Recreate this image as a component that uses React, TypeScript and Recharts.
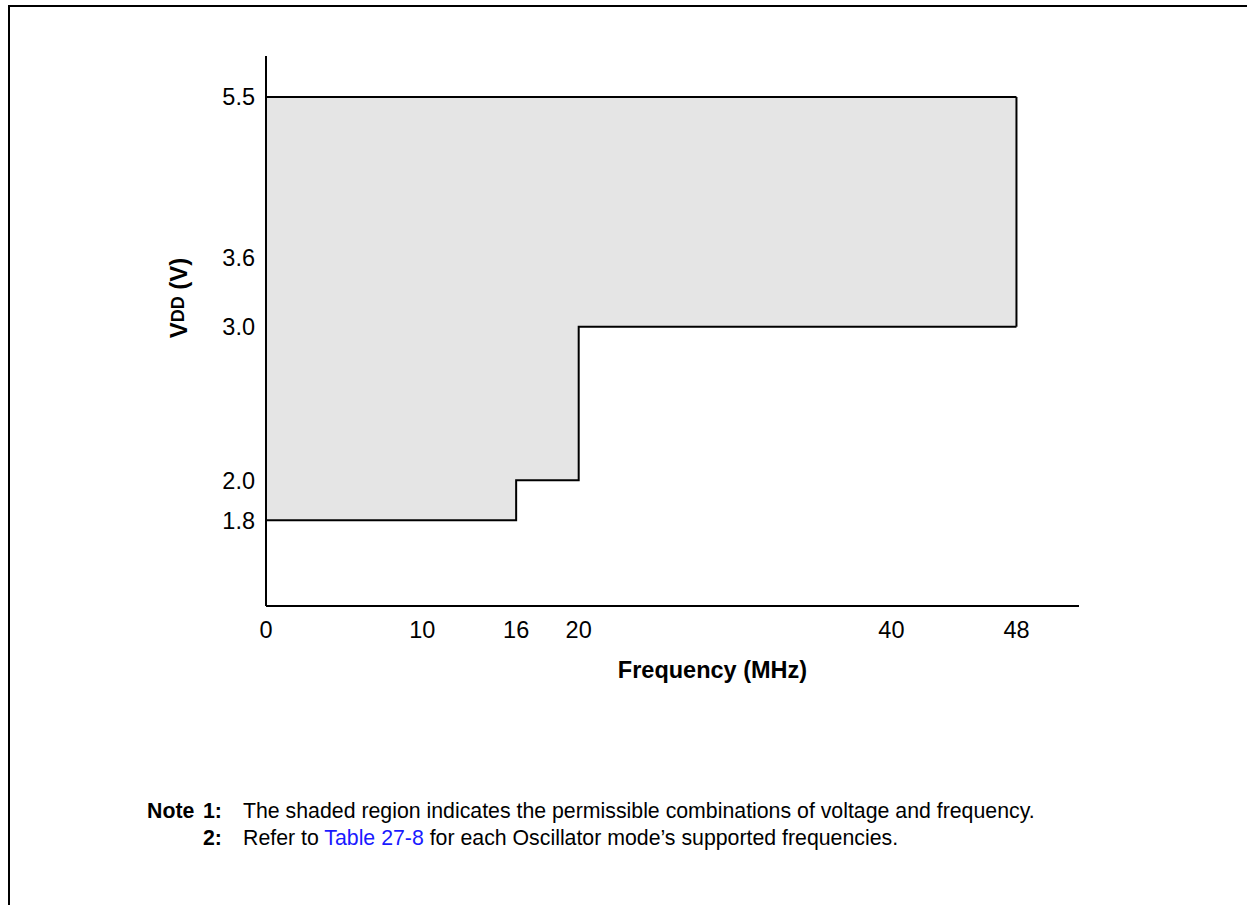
import {FC} from "react";
import {ComposedChart, Area, XAxis, YAxis, ReferenceLine} from 'recharts';

// operating region: min / max VDD at each frequency breakpoint (MHz)
const frequencies = [0, 16, 20, 48];
const minVoltage = [1.8, 2.0, 3.0, 3.0];
const maxVoltage = [5.5, 5.5, 5.5, 5.5];

const freqTicks = [0, 10, 16, 20, 40, 48];
const voltTicks = [1.8, 2.0, 3.0, 3.6, 5.5];

const noteLines = [
    {num: '1:', before: 'The shaded region indicates the permissible combinations of voltage and frequency.', link: '', after: ''},
    {num: '2:', before: 'Refer to ', link: 'Table 27-8', after: ' for each Oscillator mode\u2019s supported frequencies.'},
];

const FONT = '"Liberation Sans", Arial, Helvetica, sans-serif';

const App: FC = () => {

    const data = frequencies.map((f, i) => ({
        freq: f,
        range: [minVoltage[i], maxVoltage[i]],
    }));

    const last = frequencies.length - 1;

    return (
        <div style={{position: 'absolute', left: 0, top: 0, width: 1248, height: 905, background: '#fff', fontFamily: FONT, overflow: 'hidden'}}>
            <div style={{position: 'absolute', left: 8, top: 5, width: 1239, height: 910, borderTop: '2px solid #000', borderLeft: '2px solid #000', boxSizing: 'border-box'}}/>
            <ComposedChart width={1248} height={905} data={data}
                           margin={{top: 56, right: 169, bottom: 905 - 606 - 80, left: 266 - 60}}>
                <XAxis dataKey="freq" type="number" domain={[0, 52]} ticks={freqTicks} allowDataOverflow
                       height={80} tickLine={false} tickSize={0} tickMargin={15}
                       axisLine={{stroke: '#000', strokeWidth: 2}}
                       tick={{fill: '#000', fontSize: 23.5}}
                       label={{
                           content: (props: any) => {
                               const vb = props.viewBox;
                               return (
                                   <text x={vb.x + vb.width / 2 + 40} y={vb.y + 72} textAnchor="middle"
                                         fontSize={23.5} fontWeight="bold" fill="#000">Frequency (MHz)</text>
                               );
                           }
                       }}/>
                <YAxis type="number" scale="log" domain={[1.435, 6.13]} ticks={voltTicks} allowDataOverflow
                       width={60} tickLine={false} tickSize={0} tickMargin={11}
                       tickFormatter={(v: number) => v.toFixed(1)}
                       axisLine={{stroke: '#000', strokeWidth: 2}}
                       tick={{fill: '#000', fontSize: 23.5}}
                       label={{
                           content: () => (
                               <text x={178} y={298} transform="rotate(-90, 178, 298)" textAnchor="middle"
                                     dominantBaseline="central" fontSize={24} fontWeight="bold" fill="#000">
                                   V<tspan fontSize={18}>DD</tspan> (V)
                               </text>
                           )
                       }}/>
                <Area type="stepAfter" dataKey="range" stroke="#000" strokeWidth={2}
                      fill="#e5e5e5" fillOpacity={1} isAnimationActive={false}/>
                <ReferenceLine segment={[{x: frequencies[last], y: minVoltage[last]}, {x: frequencies[last], y: maxVoltage[last]}]}
                               stroke="#000" strokeWidth={2}/>
                <ReferenceLine segment={[{x: frequencies[0], y: minVoltage[0]}, {x: frequencies[0], y: maxVoltage[0]}]}
                               stroke="#000" strokeWidth={2}/>
            </ComposedChart>
            {noteLines.map((n, i) => (
                <div key={i} style={{position: 'absolute', top: 798 + i * 26.5, left: 0, fontSize: 21.3, lineHeight: '27px', color: '#000', whiteSpace: 'nowrap'}}>
                    {i === 0 && <span style={{position: 'absolute', left: 147, fontWeight: 'bold'}}>Note</span>}
                    <span style={{position: 'absolute', left: 203, fontWeight: 'bold'}}>{n.num}</span>
                    <span style={{position: 'absolute', left: 243}}>
                        {n.before}
                        {n.link && <span style={{color: '#1a1aff'}}>{n.link}</span>}
                        {n.after}
                    </span>
                </div>
            ))}
        </div>
    );
};

export default App;
